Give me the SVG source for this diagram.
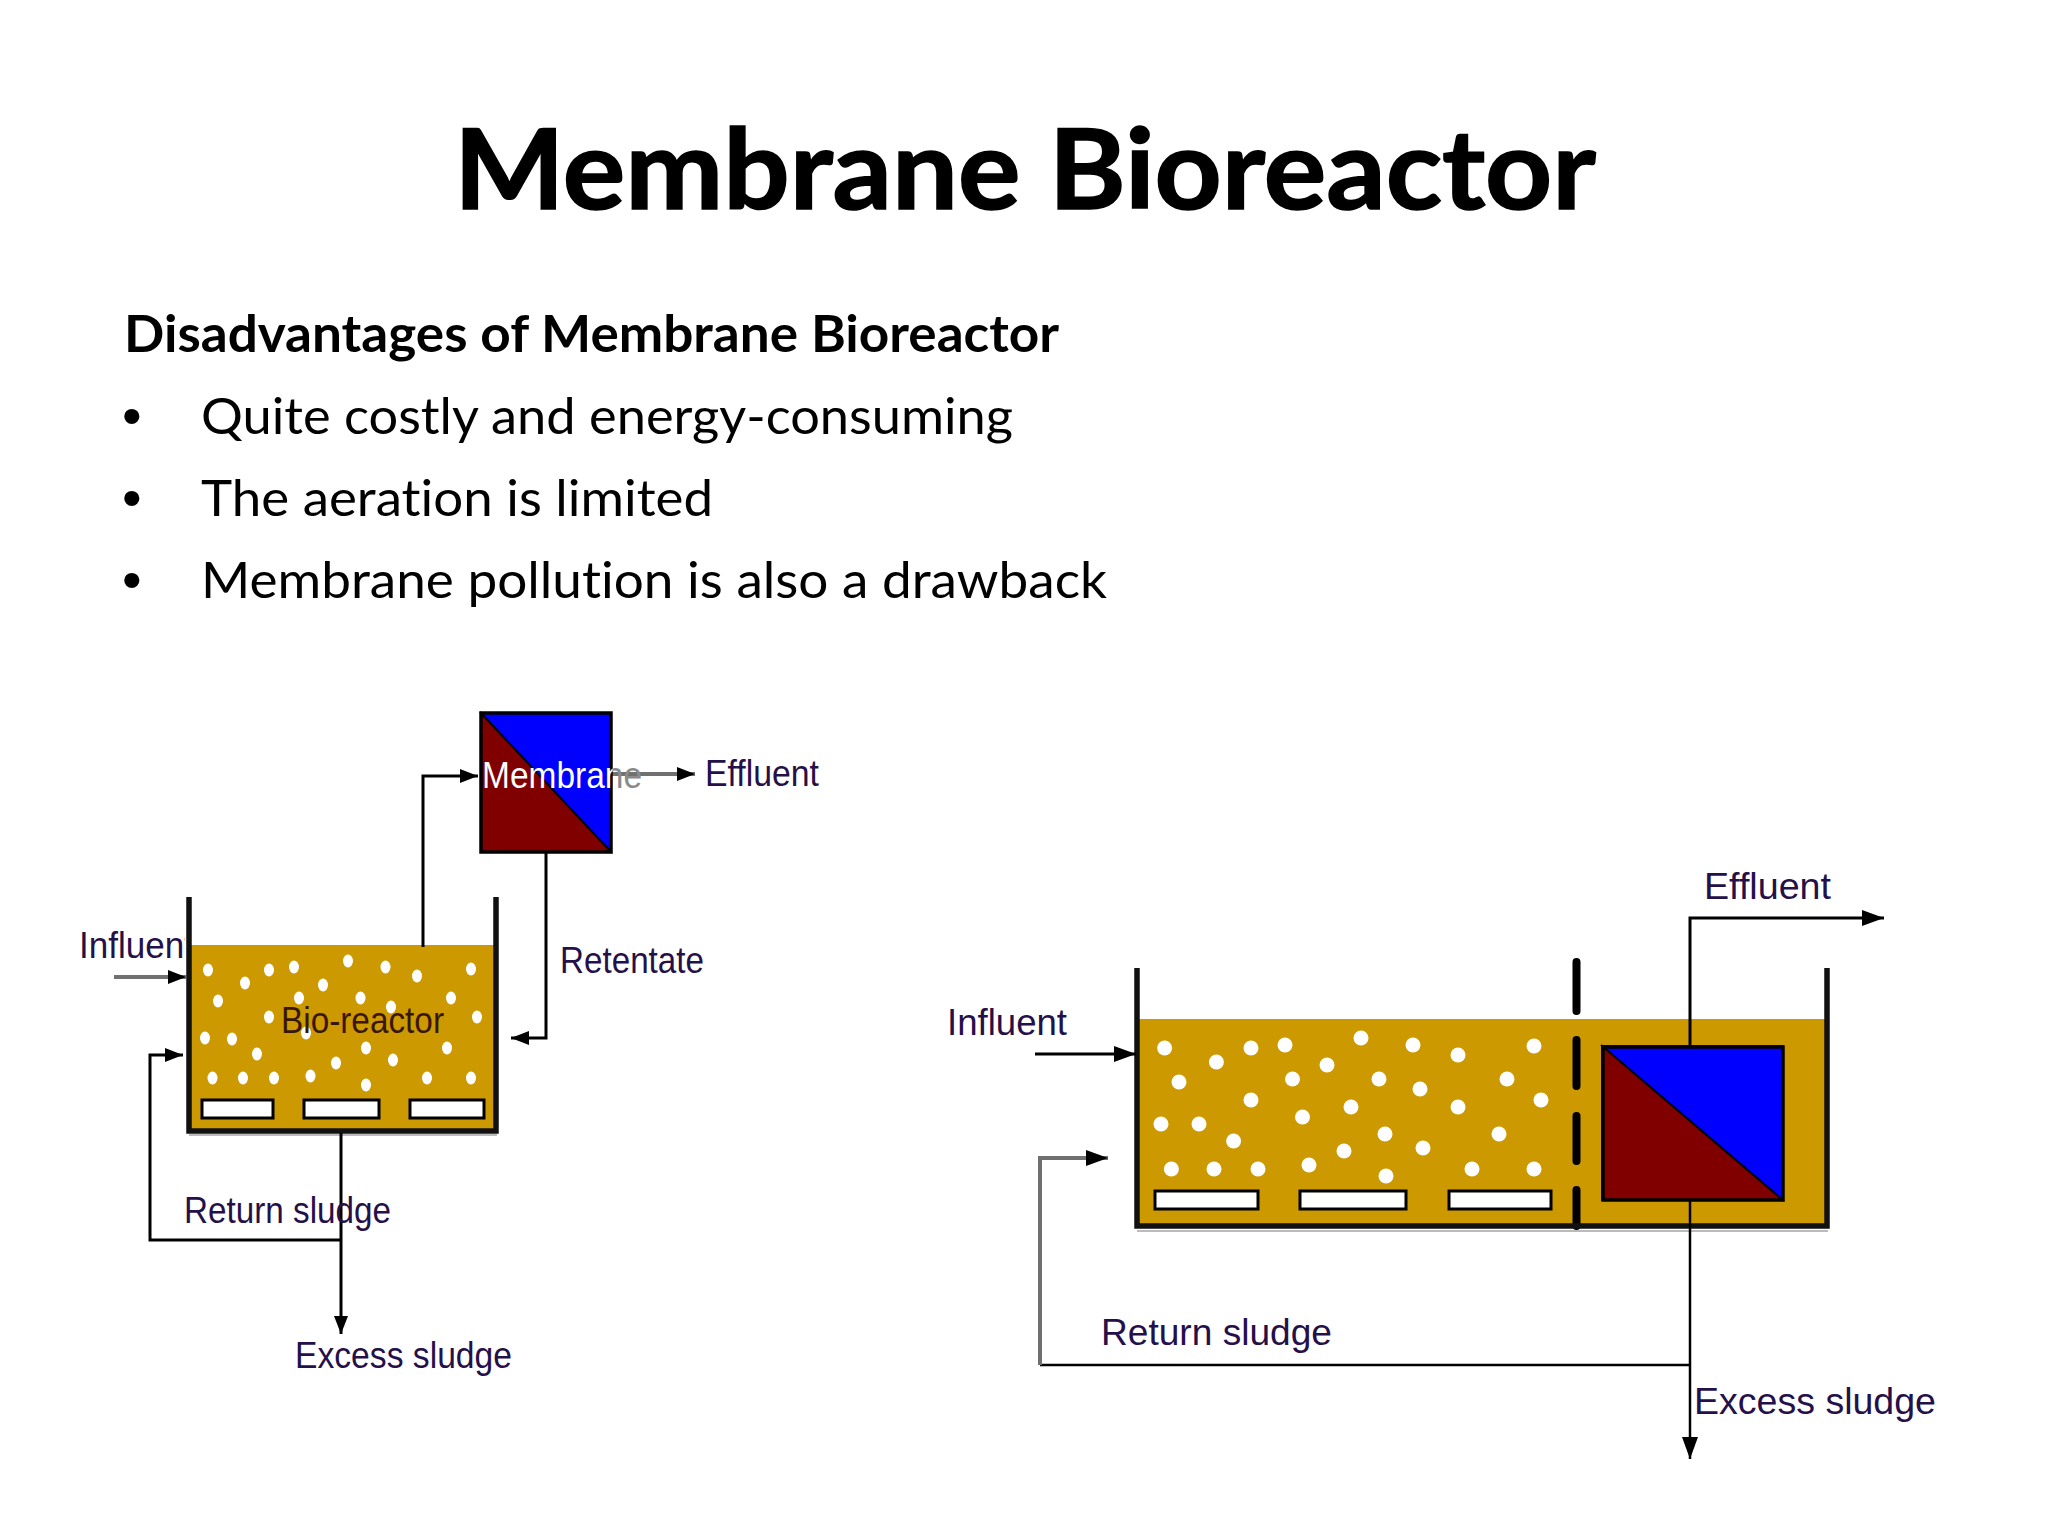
<svg xmlns="http://www.w3.org/2000/svg" width="2048" height="1536" viewBox="0 0 2048 1536">
<style>
.title{font:700 111px Lato,"Liberation Sans",sans-serif;fill:#000;stroke:#000;stroke-width:1.5}
.b{font:400 51px Lato,"Liberation Sans",sans-serif;fill:#000}
.bb{font:700 51px Lato,"Liberation Sans",sans-serif;fill:#000}
.bul{font:400 56px "Liberation Sans",Arial,sans-serif;fill:#000}
.lab{font:400 36px "Liberation Sans",Arial,sans-serif;fill:#25104a}
text{font-variant-ligatures:none !important}
.line{fill:none;stroke:#000;stroke-width:3}
.thin{fill:none;stroke:#000;stroke-width:2.5}
.grey{fill:none;stroke:#707070;stroke-width:4}
.liquid{fill:#CC9900}
.wall{fill:none;stroke:#111;stroke-width:5.5;stroke-linecap:butt;stroke-linejoin:miter}
.shadow{fill:none;stroke:#bbb;stroke-width:2}
.diff{fill:#fff;stroke:#000;stroke-width:3}
.dots ellipse,.dots circle{fill:#fff}
.blue{fill:#0000FF}
.red{fill:#800000}
.box{fill:none;stroke:#000;stroke-width:3.5}
.diag{fill:none;stroke:#000;stroke-width:2}
.part{stroke:#000;stroke-width:8;stroke-linecap:round;fill:none}
</style>
<defs>
<marker id="head" markerUnits="userSpaceOnUse" markerWidth="24" markerHeight="18" refX="22" refY="8" orient="auto">
<path d="M0 0L22 8L0 16Z" fill="#000"/>
</marker>
<marker id="headS" markerUnits="userSpaceOnUse" markerWidth="20" markerHeight="16" refX="18" refY="7" orient="auto">
<path d="M0 0L18 7L0 14Z" fill="#000"/>
</marker>
<linearGradient id="memb" gradientUnits="userSpaceOnUse" x1="482" y1="0" x2="642" y2="0">
<stop offset="0.81" stop-color="#fff"/><stop offset="0.82" stop-color="#8a8a8a"/>
</linearGradient>
<clipPath id="clipInf"><rect x="60" y="920" width="125" height="50"/></clipPath>
</defs>

<g id="title-slide">
<text class="title" x="454" y="209" textLength="1142" lengthAdjust="spacingAndGlyphs">Membrane Bioreactor</text>
<text class="bb" x="124" y="352" textLength="935" lengthAdjust="spacingAndGlyphs">Disadvantages of Membrane Bioreactor</text>
<text class="bul" x="122" y="435">•</text>
<text class="b" x="201" y="434" textLength="812" lengthAdjust="spacingAndGlyphs">Quite costly and energy-consuming</text>
<text class="bul" x="122" y="517">•</text>
<text class="b" x="201" y="516" textLength="512" lengthAdjust="spacingAndGlyphs">The aeration is limited</text>
<text class="bul" x="122" y="599">•</text>
<text class="b" x="201" y="598" textLength="906" lengthAdjust="spacingAndGlyphs">Membrane pollution is also a drawback</text>
</g>

<g id="bioreactor-left">
<rect class="liquid" x="189" y="945" width="307" height="187"/>
<g class="dots">
<ellipse cx="208" cy="970" rx="5" ry="6.5"/><ellipse cx="269" cy="970" rx="5" ry="6.5"/><ellipse cx="294" cy="967" rx="5" ry="6.5"/><ellipse cx="348" cy="961" rx="5" ry="6.5"/><ellipse cx="385.5" cy="967" rx="5" ry="6.5"/><ellipse cx="417" cy="976" rx="5" ry="6.5"/><ellipse cx="471" cy="969" rx="5" ry="6.5"/><ellipse cx="245" cy="983" rx="5" ry="6.5"/><ellipse cx="323" cy="985" rx="5" ry="6.5"/><ellipse cx="218" cy="1001" rx="5" ry="6.5"/><ellipse cx="299" cy="998" rx="5" ry="6.5"/><ellipse cx="360.5" cy="998" rx="5" ry="6.5"/><ellipse cx="391" cy="1007" rx="5" ry="6.5"/><ellipse cx="451" cy="998" rx="5" ry="6.5"/><ellipse cx="269" cy="1017" rx="5" ry="6.5"/><ellipse cx="477" cy="1017" rx="5" ry="6.5"/><ellipse cx="205" cy="1038" rx="5" ry="6.5"/><ellipse cx="232" cy="1039" rx="5" ry="6.5"/><ellipse cx="306" cy="1033" rx="5" ry="6.5"/><ellipse cx="257" cy="1054" rx="5" ry="6.5"/><ellipse cx="366" cy="1048" rx="5" ry="6.5"/><ellipse cx="447" cy="1048" rx="5" ry="6.5"/><ellipse cx="393" cy="1060" rx="5" ry="6.5"/><ellipse cx="336" cy="1063" rx="5" ry="6.5"/><ellipse cx="212.5" cy="1078" rx="5" ry="6.5"/><ellipse cx="243" cy="1078" rx="5" ry="6.5"/><ellipse cx="274" cy="1078" rx="5" ry="6.5"/><ellipse cx="310.5" cy="1076" rx="5" ry="6.5"/><ellipse cx="366" cy="1085" rx="5" ry="6.5"/><ellipse cx="427" cy="1078" rx="5" ry="6.5"/><ellipse cx="471" cy="1078" rx="5" ry="6.5"/>
</g>
<rect class="diff" x="202" y="1100" width="71" height="18"/>
<rect class="diff" x="304" y="1100" width="75" height="18"/>
<rect class="diff" x="410" y="1100" width="74" height="18"/>
<path class="shadow" d="M189 1135H497"/>
<path class="wall" d="M189 897V1131H496V897"/>
<text class="lab" x="281" y="1033" textLength="163" lengthAdjust="spacingAndGlyphs" style="fill:#3a1608">Bio-reactor</text>
</g>

<g id="bioreactor-right">
<rect class="liquid" x="1137" y="1019" width="690" height="209"/>
<g class="dots">
<circle cx="1164.6" cy="1048" r="7.5"/><circle cx="1216.4" cy="1062" r="7.5"/><circle cx="1251" cy="1048" r="7.5"/><circle cx="1285" cy="1045" r="7.5"/><circle cx="1361" cy="1038" r="7.5"/><circle cx="1413" cy="1045" r="7.5"/><circle cx="1458" cy="1055" r="7.5"/><circle cx="1327" cy="1065" r="7.5"/><circle cx="1179" cy="1082" r="7.5"/><circle cx="1292.5" cy="1079" r="7.5"/><circle cx="1379" cy="1079" r="7.5"/><circle cx="1420" cy="1089" r="7.5"/><circle cx="1251" cy="1100" r="7.5"/><circle cx="1351" cy="1107" r="7.5"/><circle cx="1458" cy="1107" r="7.5"/><circle cx="1302.5" cy="1117" r="7.5"/><circle cx="1161" cy="1124" r="7.5"/><circle cx="1199" cy="1124" r="7.5"/><circle cx="1233.6" cy="1141" r="7.5"/><circle cx="1385" cy="1134" r="7.5"/><circle cx="1344" cy="1151" r="7.5"/><circle cx="1423" cy="1148" r="7.5"/><circle cx="1171.4" cy="1169" r="7.5"/><circle cx="1214" cy="1169" r="7.5"/><circle cx="1258" cy="1169" r="7.5"/><circle cx="1309" cy="1165" r="7.5"/><circle cx="1386" cy="1176" r="7.5"/><circle cx="1472" cy="1169" r="7.5"/><circle cx="1534" cy="1046" r="7.5"/><circle cx="1507" cy="1079" r="7.5"/><circle cx="1541" cy="1100" r="7.5"/><circle cx="1499" cy="1134" r="7.5"/><circle cx="1534" cy="1169" r="7.5"/>
</g>
<rect class="diff" x="1155" y="1191" width="103" height="18"/>
<rect class="diff" x="1300" y="1191" width="106" height="18"/>
<rect class="diff" x="1449" y="1191" width="102" height="18"/>
<path class="part" d="M1576.500 962V1011M1576.500 1040V1086M1576.500 1116V1161M1576.500 1190V1226"/>
<path class="shadow" d="M1137 1231H1828"/>
<path class="wall" d="M1137 968V1226H1827V968"/>
</g>

<g id="connectors">
<path class="line" d="M423 947V776H478" marker-end="url(#headS)"/>
<path class="grey" d="M612 774H695" marker-end="url(#headS)"/>
<path class="line" d="M546 853V1038H511" marker-end="url(#headS)"/>
<path class="grey" d="M114 977H186" marker-end="url(#headS)"/>
<path class="line" d="M341 1133V1334" marker-end="url(#headS)"/>
<path class="line" d="M341 1240H150V1055H183" marker-end="url(#headS)"/>
<path class="line" d="M1035 1054H1136" marker-end="url(#head)"/>
<path class="line" d="M1690 1045V918H1884" marker-end="url(#head)"/>
<path class="thin" d="M1690 1201V1459" marker-end="url(#head)"/>
<path class="thin" d="M1690 1365H1040"/>
<path class="grey" d="M1040 1365V1158H1108" marker-end="url(#head)"/>
</g>

<g id="membrane-left">
<path class="blue" d="M480 712H612V853Z"/>
<path class="red" d="M480 712V853H612Z"/>
<path class="diag" d="M480 712L612 853"/>
<rect class="box" x="481" y="713" width="130" height="139"/>
<text class="lab" x="482" y="788" textLength="160" lengthAdjust="spacingAndGlyphs" style="fill:url(#memb)">Membrane</text>
</g>

<g id="membrane-right">
<path class="blue" d="M1601 1045H1784V1201Z"/>
<path class="red" d="M1601 1045V1201H1784Z"/>
<path class="diag" d="M1601 1045L1784 1201"/>
<rect class="box" x="1603" y="1047" width="180" height="153"/>
</g>

<g id="labels-left">
<text class="lab" x="79" y="958" textLength="115" lengthAdjust="spacingAndGlyphs" clip-path="url(#clipInf)">Influent</text>
<text class="lab" x="705" y="786" textLength="114" lengthAdjust="spacingAndGlyphs">Effluent</text>
<text class="lab" x="560" y="973" textLength="144" lengthAdjust="spacingAndGlyphs">Retentate</text>
<text class="lab" x="184" y="1223" textLength="207" lengthAdjust="spacingAndGlyphs">Return sludge</text>
<text class="lab" x="295" y="1368" textLength="217" lengthAdjust="spacingAndGlyphs">Excess sludge</text>
</g>

<g id="labels-right">
<text class="lab" x="947" y="1035" textLength="120" lengthAdjust="spacingAndGlyphs">Influent</text>
<text class="lab" x="1704" y="899" textLength="127" lengthAdjust="spacingAndGlyphs">Effluent</text>
<text class="lab" x="1101" y="1345" textLength="231" lengthAdjust="spacingAndGlyphs">Return sludge</text>
<text class="lab" x="1694" y="1414" textLength="242" lengthAdjust="spacingAndGlyphs">Excess sludge</text>
</g>
</svg>
